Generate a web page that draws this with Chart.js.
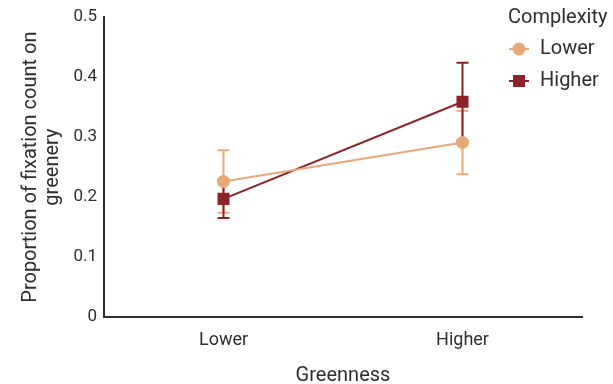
<!DOCTYPE html>
<html>
<head>
<meta charset="utf-8">
<script src="https://cdn.jsdelivr.net/npm/chart.js@4.4.1/dist/chart.umd.min.js"></script>
<style>
  html, body { margin: 0; padding: 0; background: #ffffff; }
  #wrap { width: 613px; height: 384px; position: relative; }
</style>
</head>
<body>
<div id="wrap"><canvas id="chart" width="613" height="384"></canvas></div>
<script>
// Greenness levels on the x axis
const categories = ['Lower', 'Higher'];

// Complexity groups: mean proportion and error-bar half-width at each greenness level
const seriesNames = ['Lower', 'Higher'];
const lowerComplexityMeans = [0.226, 0.291];
const lowerComplexityErrors = [0.052, 0.053];
const higherComplexityMeans = [0.197, 0.359];
const higherComplexityErrors = [0.032, 0.065];

const yTicks = [0, 0.1, 0.2, 0.3, 0.4, 0.5];

const LIGHT = '#e9a877';
const DARK = '#8b2328';
const TEXT = '#2e2e2e';
const FONT = 'Roboto, "DejaVu Sans", sans-serif';

// Vertical error bars with caps, drawn beneath the markers
const errorBarPlugin = {
  id: 'errorBars',
  beforeDatasetsDraw(chart) {
    const ctx = chart.ctx;
    const y = chart.scales.y;
    chart.data.datasets.forEach((ds, i) => {
      const meta = chart.getDatasetMeta(i);
      meta.data.forEach((pt, j) => {
        const v = ds.data[j];
        const e = ds.errors[j];
        const top = y.getPixelForValue(v + e);
        const bot = y.getPixelForValue(v - e);
        ctx.save();
        ctx.strokeStyle = ds.borderColor;
        ctx.lineWidth = 2;
        ctx.beginPath();
        ctx.moveTo(pt.x, top); ctx.lineTo(pt.x, bot);
        ctx.moveTo(pt.x - 6, top); ctx.lineTo(pt.x + 6, top);
        ctx.moveTo(pt.x - 6, bot); ctx.lineTo(pt.x + 6, bot);
        ctx.stroke();
        ctx.restore();
      });
    });
  }
};

// Legend with a title, placed in the upper right corner
const legendPlugin = {
  id: 'complexityLegend',
  afterDraw(chart) {
    const ctx = chart.ctx;
    ctx.save();
    ctx.fillStyle = TEXT;
    ctx.font = '20px ' + FONT;
    ctx.textBaseline = 'middle';
    ctx.textAlign = 'left';
    ctx.fillText('Complexity', 508, 18);
    chart.data.datasets.forEach((ds, i) => {
      const cy = 49 + i * 32;
      const cx = 519;
      ctx.strokeStyle = ds.borderColor;
      ctx.lineWidth = 2;
      ctx.beginPath();
      ctx.moveTo(cx - 10, cy); ctx.lineTo(cx + 10, cy);
      ctx.stroke();
      ctx.fillStyle = ds.borderColor;
      if (ds.pointStyle === 'circle') {
        ctx.beginPath();
        ctx.arc(cx, cy, 6.5, 0, Math.PI * 2);
        ctx.fill();
      } else {
        ctx.fillRect(cx - 6, cy - 6, 12, 12);
      }
      ctx.fillStyle = TEXT;
      ctx.fillText(ds.label, 540, cy);
    });
    ctx.restore();
  }
};

new Chart(document.getElementById('chart'), {
  type: 'line',
  data: {
    labels: categories,
    datasets: [
      {
        label: seriesNames[0],
        data: lowerComplexityMeans,
        errors: lowerComplexityErrors,
        borderColor: LIGHT,
        backgroundColor: LIGHT,
        borderWidth: 2,
        pointStyle: 'circle',
        pointRadius: 6.5,
        pointHoverRadius: 6.5,
        pointBorderWidth: 0
      },
      {
        label: seriesNames[1],
        data: higherComplexityMeans,
        errors: higherComplexityErrors,
        borderColor: DARK,
        backgroundColor: DARK,
        borderWidth: 2,
        pointStyle: 'rect',
        pointRadius: 8.5,
        pointHoverRadius: 8.5,
        pointBorderWidth: 0
      }
    ]
  },
  options: {
    responsive: false,
    animation: false,
    layout: { padding: { top: 17, right: 31, left: 0, bottom: 0 } },
    plugins: {
      legend: { display: false },
      tooltip: { enabled: false }
    },
    scales: {
      x: {
        type: 'category',
        offset: true,
        grid: { display: false, drawTicks: false },
        border: { display: true, color: TEXT, width: 2 },
        ticks: { color: TEXT, font: { family: FONT, size: 18 }, padding: 13 },
        title: {
          display: true,
          text: 'Greenness',
          color: TEXT,
          font: { family: FONT, size: 20 },
          padding: { top: 0, bottom: -4 }
        },
        afterFit(scale) { scale.height = 67; }
      },
      y: {
        min: 0,
        max: 0.5,
        grid: { display: false, drawTicks: false },
        border: { display: true, color: TEXT, width: 2 },
        afterBuildTicks(scale) { scale.ticks = yTicks.map(v => ({ value: v })); },
        ticks: {
          color: TEXT,
          font: { family: FONT, size: 17 },
          padding: 7,
          callback: v => String(v)
        },
        title: {
          display: true,
          text: ['Proportion of fixation count on', 'greenery'],
          color: TEXT,
          font: { family: FONT, size: 20, lineHeight: 1.1 },
          padding: { top: 20 }
        },
        afterFit(scale) { scale.width = 104; }
      }
    }
  },
  plugins: [errorBarPlugin, legendPlugin]
});
</script>
</body>
</html>
